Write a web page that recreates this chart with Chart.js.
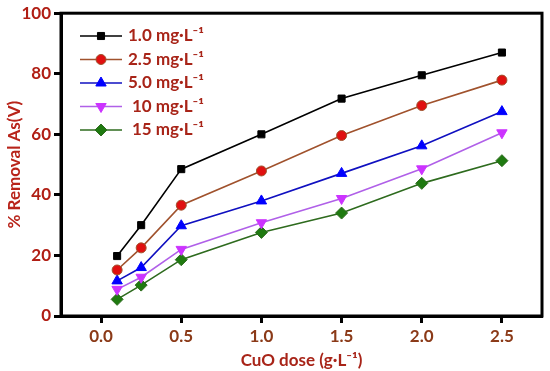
<!DOCTYPE html>
<html>
<head>
<meta charset="utf-8">
<script src="https://cdn.jsdelivr.net/npm/chart.js@4/dist/chart.umd.min.js"></script>
<style>
  html, body { margin: 0; padding: 0; background: #fff; }
  #wrap { width: 550px; height: 371px; }
</style>
</head>
<body>
<div id="wrap"><canvas id="chart" width="550" height="371"></canvas></div>
<script>
// CuO dose (g/L) vs % removal of As(V) for several initial concentrations
const doses = [0.1, 0.25, 0.5, 1.0, 1.5, 2.0, 2.5];
const seriesNames = ['1.0 mg\u2219L\u207B\u00B9', '2.5 mg\u2219L\u207B\u00B9', '5.0 mg\u2219L\u207B\u00B9', '10 mg\u2219L\u207B\u00B9', '15 mg\u2219L\u207B\u00B9'];
const removal10 = [19.8, 30.0, 48.5, 60.0, 71.8, 79.5, 87.0];
const removal25 = [15.2, 22.5, 36.6, 47.9, 59.6, 69.5, 77.9];
const removal50 = [11.6, 16.0, 29.8, 38.0, 47.1, 56.2, 67.5];
const removal100 = [8.8, 12.8, 22.0, 30.8, 38.8, 48.6, 60.5];
const removal150 = [5.5, 10.2, 18.6, 27.6, 34.0, 43.8, 51.3];
const yTicks = [0, 20, 40, 60, 80, 100];
const xTicks = [0.0, 0.5, 1.0, 1.5, 2.0, 2.5];

const styles = [
    { line: '#000000', fill: '#000000', border: '#000000', shape: 'rect', r: 5 },
    { line: '#a0522d', fill: '#e01010', border: '#a0522d', shape: 'circle', r: 5 },
    { line: '#1010c0', fill: '#0000ff', border: '#0000ff', shape: 'triangle', r: 6 },
    { line: '#b060e8', fill: '#cc33ff', border: '#cc33ff', shape: 'triangle', r: 6, rot: 180 },
    { line: '#2e6b1e', fill: '#1f7a10', border: '#2e6b1e', shape: 'rectRot', r: 6 }
];
const allValues = [removal10, removal25, removal50, removal100, removal150];

const datasets = allValues.map((vals, i) => ({
    label: seriesNames[i],
    data: doses.map((d, j) => ({ x: d, y: vals[j] })),
    borderColor: styles[i].line,
    backgroundColor: styles[i].fill,
    pointBorderColor: styles[i].border,
    pointBackgroundColor: styles[i].fill,
    pointStyle: styles[i].shape,
    pointRotation: styles[i].rot || 0,
    pointRadius: styles[i].r,
    pointBorderWidth: 1,
    borderWidth: 1.6,
    tension: 0
}));

const textRed = '#a82418';
const FONT = 'Lato, "Open Sans", sans-serif';

// frame on top/right + legend inside plot
const framePlugin = {
    id: 'frame',
    afterDraw(chart) {
        const { ctx, chartArea: a } = chart;
        ctx.save();
        ctx.strokeStyle = '#000';
        ctx.lineWidth = 3;
        ctx.strokeRect(a.left, a.top, a.right - a.left, a.bottom - a.top);

        // legend
        const lx = 80, ly = 36, gap = 23.5;
        chart.data.datasets.forEach((ds, i) => {
            const y = ly + i * gap;
            ctx.strokeStyle = ds.borderColor;
            ctx.lineWidth = 1.6;
            ctx.beginPath();
            ctx.moveTo(lx, y);
            ctx.lineTo(lx + 42, y);
            ctx.stroke();
            ctx.fillStyle = ds.pointBackgroundColor;
            ctx.strokeStyle = ds.pointBorderColor;
            ctx.lineWidth = 1;
            Chart.helpers.drawPoint(ctx, {
                pointStyle: ds.pointStyle, rotation: ds.pointRotation,
                radius: ds.pointRadius, borderWidth: 1
            }, lx + 21, y);
            ctx.fillStyle = textRed;
            ctx.font = 'bold 17px ' + FONT;
            ctx.textBaseline = 'middle';
            ctx.textAlign = 'left';
            ctx.fillText(ds.label, lx + (i >= 3 ? 52 : 48), y);
        });
        ctx.restore();
    }
};

new Chart(document.getElementById('chart'), {
    type: 'line',
    data: { datasets },
    options: {
        responsive: false,
        animation: false,
        layout: { padding: { top: 13, right: 8, left: 4, bottom: 0 } },
        plugins: { legend: { display: false }, tooltip: { enabled: false } },
        scales: {
            x: {
                type: 'linear',
                min: -0.25, max: 2.75,
                afterBuildTicks: s => { s.ticks = xTicks.map(v => ({ value: v })); },
                afterFit: s => { s.height = 55; },
                border: { display: true, color: '#000', width: 3 },
                grid: { display: true, drawOnChartArea: false, drawTicks: true, tickLength: 7, tickWidth: 3, tickColor: '#000' },
                ticks: {
                    color: '#8b3a18', padding: 3,
                    font: { family: FONT, size: 17, weight: 'bold' },
                    callback: v => v.toFixed(1)
                },
                title: {
                    display: true, text: 'CuO dose (g\u2219L\u207B\u00B9)', color: textRed,
                    font: { family: FONT, size: 17, weight: 'bold' }, padding: { top: 0, bottom: 0 }
                }
            },
            y: {
                min: 0, max: 100,
                afterBuildTicks: s => { s.ticks = yTicks.map(v => ({ value: v })); },
                afterFit: s => { s.width = 57; },
                border: { display: true, color: '#000', width: 3 },
                grid: { display: true, drawOnChartArea: false, drawTicks: true, tickLength: 7, tickWidth: 3, tickColor: '#000' },
                ticks: {
                    color: '#b01e14', padding: 3,
                    font: { family: FONT, size: 17, weight: 'bold' }
                },
                title: {
                    display: true, text: '% Removal As(V)', color: '#b8241a',
                    font: { family: FONT, size: 17, weight: 'bold' }, padding: { top: 0, bottom: 0 }
                }
            }
        }
    },
    plugins: [framePlugin]
});
</script>
</body>
</html>
